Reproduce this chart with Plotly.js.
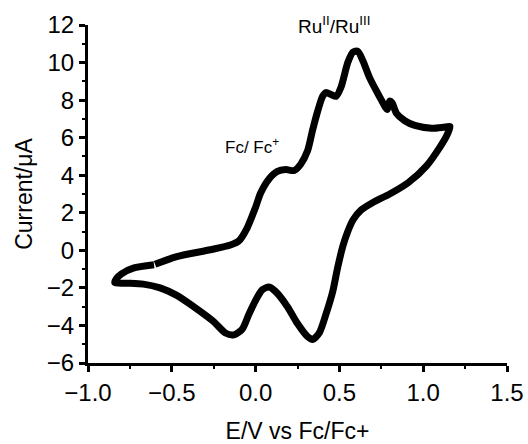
<!DOCTYPE html>
<html>
<head>
<meta charset="utf-8">
<script src="https://cdn.plot.ly/plotly-3.0.1.min.js"></script>
<style>html,body{margin:0;padding:0;background:#fff;}#chart{width:528px;height:444px;}</style>
</head>
<body>
<div id="chart"></div>
<script>
// Potential (V vs Fc/Fc+), traced around the voltammogram
var potential = [
  -0.60, -0.47, -0.27, -0.15, -0.10, -0.05, 0.00, 0.03, 0.08, 0.13, 0.18, 0.23, 0.27, 0.31, 0.34, 0.37, 0.40, 0.42, 0.45, 0.48,
  0.51, 0.55, 0.58, 0.61, 0.64, 0.68, 0.72, 0.76, 0.785, 0.80, 0.815, 0.84, 0.89, 0.95, 1.05, 1.12, 1.16,
  1.14, 1.10, 1.02, 0.91, 0.80, 0.70, 0.63, 0.58, 0.55, 0.52, 0.49, 0.46, 0.42, 0.38, 0.34, 0.31, 0.25, 0.19, 0.12, 0.08,
  0.04, 0.01, -0.04, -0.08, -0.13, -0.18, -0.25, -0.37, -0.47, -0.57, -0.67, -0.77, -0.84,
  -0.83, -0.80, -0.73, -0.606
];
// Current (µA)
var current = [
  -0.745, -0.33, 0.03, 0.28, 0.50, 1.2, 2.3, 3.05, 3.8, 4.2, 4.3, 4.25, 4.6, 5.3, 6.4, 7.4, 8.2, 8.4, 8.3, 8.2,
  8.7, 10.0, 10.55, 10.6, 10.1, 9.2, 8.5, 7.85, 7.5, 7.95, 7.85, 7.3, 6.9, 6.65, 6.5, 6.55, 6.6,
  6.1, 5.5, 4.5, 3.6, 3.0, 2.55, 2.15, 1.6, 1.0, 0.2, -0.9, -2.2, -3.4, -4.4, -4.75, -4.6, -3.9, -3.0, -2.2, -1.95,
  -2.1, -2.5, -3.4, -4.2, -4.5, -4.4, -3.8, -3.0, -2.4, -2.0, -1.8, -1.75, -1.72,
  -1.5, -1.25, -0.95, -0.77
];
var xTicks = [-1.0, -0.5, 0.0, 0.5, 1.0, 1.5];
var xTickText = ["\u22121.0", "\u22120.5", "0.0", "0.5", "1.0", "1.5"];
var yTicks = [-6, -4, -2, 0, 2, 4, 6, 8, 10, 12];
var yTickText = ["\u22126", "\u22124", "\u22122", "0", "2", "4", "6", "8", "10", "12"];
var labelRu = "Ru<sup>II</sup>/Ru<sup>III</sup>";
var labelFc = "Fc/ Fc<sup>+</sup>";

var font = "Liberation Sans, Arial, sans-serif";

Plotly.newPlot('chart', [{
  x: potential, y: current, type: 'scatter', mode: 'lines',
  line: {color: '#000', width: 7, shape: 'spline', smoothing: 0.7},
  hoverinfo: 'skip'
}], {
  width: 528, height: 444,
  margin: {l: 88, r: 21, t: 25, b: 81},
  paper_bgcolor: '#fff', plot_bgcolor: '#fff',
  showlegend: false,
  font: {family: font, color: '#000'},
  xaxis: {
    range: [-1.0, 1.5], tickvals: xTicks, ticktext: xTickText,
    showgrid: false, zeroline: false, showline: true, linecolor: '#000', linewidth: 3,
    ticks: 'outside', ticklen: 6, tickwidth: 3, tickcolor: '#000',
    minor: {dtick: 0.25, ticks: 'outside', ticklen: 3, tickwidth: 2, tickcolor: '#000', showgrid: false},
    tickfont: {size: 24, family: font, color: '#000'},
    title: {text: 'E/V vs Fc/Fc+', font: {size: 23, family: font, color: '#000'}, standoff: 21}
  },
  yaxis: {
    range: [-6, 12], tickvals: yTicks, ticktext: yTickText,
    showgrid: false, zeroline: false, showline: true, linecolor: '#000', linewidth: 3,
    ticks: 'outside', ticklen: 6, tickwidth: 3, tickcolor: '#000',
    minor: {dtick: 1, ticks: 'outside', ticklen: 3, tickwidth: 2, tickcolor: '#000', showgrid: false},
    tickfont: {size: 24, family: font, color: '#000'},
    title: {text: 'Current/\u03bcA', font: {size: 23, family: font, color: '#000'}, standoff: 8}
  },
  annotations: [
    {x: 0.47, y: 1.0, xref: 'x', yref: 'paper', yanchor: 'middle', text: labelRu, showarrow: false, font: {size: 19, family: font, color: '#000'}},
    {x: -0.02, y: 5.56, xref: 'x', yref: 'y', text: labelFc, showarrow: false, font: {size: 17, family: font, color: '#000'}}
  ]
}, {displayModeBar: false, staticPlot: true});
</script>
</body>
</html>
